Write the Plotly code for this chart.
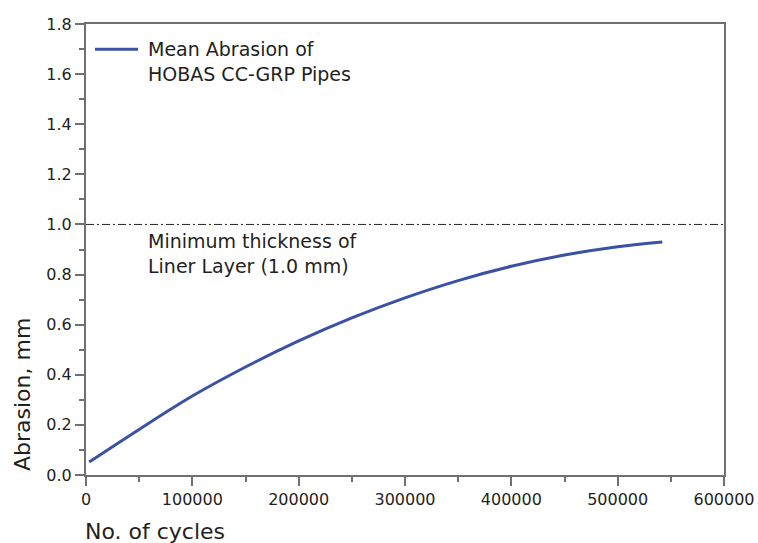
import plotly.graph_objects as go

# Mean abrasion readings (cycles vs. abrasion depth in mm)
cycles = [3000, 50000, 100000, 150000, 200000, 250000, 300000,
          350000, 400000, 450000, 500000, 542000]
abrasion_mm = [0.052, 0.182, 0.315, 0.431, 0.535, 0.627, 0.707,
               0.776, 0.833, 0.878, 0.911, 0.930]

liner_thickness = 1.0
x_ticks = [0, 100000, 200000, 300000, 400000, 500000, 600000]
y_ticks = [0.0, 0.2, 0.4, 0.6, 0.8, 1.0, 1.2, 1.4, 1.6, 1.8]

W, H = 758, 543
L, R, T, B = 86, 34, 24, 68
pw, ph = W - L - R, H - T - B


def px(x):
    return (x - L) / pw


def py(y):
    return (H - B - y) / ph


FONT = "DejaVu Sans"
AXIS_COL = "#707070"
TEXT_COL = "#231f20"
LINE_COL = "#3a52a3"

fig = go.Figure()

fig.add_trace(go.Scatter(
    x=cycles, y=abrasion_mm, mode="lines",
    line=dict(color=LINE_COL, width=3, shape="spline", smoothing=1.0),
    name="Mean Abrasion of HOBAS CC-GRP Pipes",
    showlegend=False, hoverinfo="skip",
))

# Minimum liner thickness reference line
fig.add_shape(type="line", xref="paper", yref="y", x0=0, x1=1,
              y0=liner_thickness, y1=liner_thickness,
              line=dict(color="#222222", width=1, dash="8px,3px,2px,3px"))

# Legend sample
fig.add_shape(type="line", xref="paper", yref="paper",
              x0=px(95), x1=px(138), y0=py(49.3), y1=py(49.3),
              line=dict(color=LINE_COL, width=3))

annotations = [
    dict(text="Mean Abrasion of<br>HOBAS CC-GRP Pipes",
         x=px(146), y=py(61), xanchor="left", yanchor="middle",
         font=dict(size=19)),
    dict(text="Minimum thickness of<br>Liner Layer (1.0 mm)",
         x=px(146), y=py(253.5), xanchor="left", yanchor="middle",
         font=dict(size=19)),
    dict(text="No. of cycles", x=px(83), y=py(531),
         xanchor="left", yanchor="middle", font=dict(size=22)),
    dict(text="Abrasion, mm", x=px(22), y=py(395), textangle=-90,
         xanchor="center", yanchor="middle", font=dict(size=22)),
]
for a in annotations:
    a.update(xref="paper", yref="paper", showarrow=False, align="left")
    a["font"].update(family=FONT, color=TEXT_COL)
    fig.add_annotation(**a)

axis_common = dict(
    showline=True, linecolor=AXIS_COL, linewidth=2, mirror=True,
    ticks="outside", tickcolor=AXIS_COL, tickwidth=1.5,
    showgrid=False, zeroline=False, automargin=False,
    tickfont=dict(family=FONT, size=16, color=TEXT_COL),
)

fig.update_xaxes(
    range=[0, 600000], tickvals=x_ticks, tickformat="d", ticklen=9,
    minor=dict(dtick=50000, ticks="outside", ticklen=5,
               tickcolor=AXIS_COL, tickwidth=1.5, showgrid=False),
    **axis_common,
)
fig.update_yaxes(
    range=[0, 1.8], tickvals=y_ticks, tickformat=".1f", ticklen=9,
    minor=dict(dtick=0.1, ticks="outside", ticklen=5,
               tickcolor=AXIS_COL, tickwidth=1.5, showgrid=False),
    **axis_common,
)

fig.update_layout(
    width=W, height=H,
    margin=dict(l=L, r=R, t=T, b=B, pad=0, autoexpand=False),
    paper_bgcolor="white", plot_bgcolor="white",
    font=dict(family=FONT, color=TEXT_COL),
)

fig.write_html("out.html")
